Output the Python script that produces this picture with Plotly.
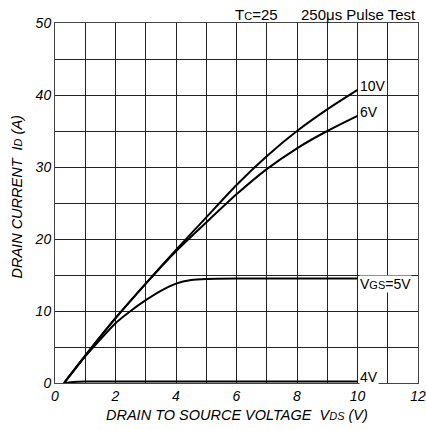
import plotly.graph_objects as go

vds_main = [0.3, 1, 2, 3, 4, 5, 6, 7, 8, 9, 10]
id_10v = [0, 3.8, 9.0, 13.8, 18.5, 23.0, 27.5, 31.5, 35.0, 38.0, 40.7]
id_6v = [0, 3.8, 9.0, 13.8, 18.3, 22.3, 26.2, 29.7, 32.6, 35.0, 37.1]
vds_5v = [0.3, 1, 2, 2.5, 3, 3.5, 4, 4.5, 5, 6, 10]
id_5v = [0, 3.7, 8.3, 10.0, 11.5, 12.8, 13.8, 14.3, 14.45, 14.5, 14.5]
vds_4v = [0.3, 0.6, 1, 10]
id_4v = [0, 0.15, 0.2, 0.2]

curve_labels = ["10V", "6V", "V<span style='font-size:11px'>GS</span>=5V", "4V"]
label_y = [41.3, 37.6, 13.8, 0.9]

x_ticks = list(range(0, 13))
y_ticks = list(range(0, 51, 5))

FONT = "Liberation Sans, Arial, sans-serif"

fig = go.Figure()
for xs, ys, sm in [(vds_main, id_10v, 0.6), (vds_main, id_6v, 0.6),
                   (vds_5v, id_5v, 0.5), (vds_4v, id_4v, 0.3)]:
    fig.add_trace(go.Scatter(x=xs, y=ys, mode="lines",
                             line=dict(color="black", width=2, shape="spline", smoothing=sm),
                             hoverinfo="skip", showlegend=False, cliponaxis=False))

for txt, yy in zip(curve_labels, label_y):
    fig.add_annotation(x=10, y=yy, xref="x", yref="y", text=txt, showarrow=False,
                       xanchor="left", yanchor="middle", xshift=1, bgcolor="white",
                       borderpad=0, font=dict(family=FONT, size=14, color="black"))

# header texts
fig.add_annotation(x=(233 - 55) / 363, y=1.0, xref="paper", yref="paper", yanchor="bottom",
                   xanchor="left", text="T<span style='font-size:11px'>C</span>=25",
                   showarrow=False, yshift=-2, font=dict(family=FONT, size=15, color="black"))
fig.add_annotation(x=1.0, y=1.0, xref="paper", yref="paper", yanchor="bottom", xanchor="right",
                   text="250μs Pulse Test", showarrow=False, yshift=-2,
                   font=dict(family=FONT, size=15, color="black"))

# axis titles
fig.add_annotation(x=0.5, y=0, xref="paper", yref="paper", yanchor="middle", xanchor="center",
                   yshift=-32,
                   text="DRAIN TO SOURCE VOLTAGE  V<span style='font-size:11px'>DS</span> (V)",
                   showarrow=False, font=dict(family=FONT, size=14.5, color="black", style="italic"))
fig.add_annotation(x=0, y=(383 - 197.5) / 360, xref="paper", yref="paper",
                   yanchor="middle", xanchor="center", xshift=-39, textangle=-90,
                   text="DRAIN CURRENT  I<span style='font-size:11px'>D</span> (A)",
                   showarrow=False, font=dict(family=FONT, size=14.5, color="black", style="italic"))

fig.update_xaxes(range=[0, 12], tickvals=x_ticks,
                 ticktext=[str(v) if v % 2 == 0 else "" for v in x_ticks],
                 showgrid=True, gridcolor="#222", gridwidth=1,
                 showline=True, linecolor="#444", linewidth=1, mirror=True,
                 zeroline=False, ticks="", automargin=False,
                 tickfont=dict(family=FONT, size=14, color="black", style="italic"))
fig.update_yaxes(range=[0, 50], tickvals=y_ticks,
                 ticktext=[str(v) if v % 10 == 0 else "" for v in y_ticks],
                 showgrid=True, gridcolor="#222", gridwidth=1,
                 showline=True, linecolor="#444", linewidth=1, mirror=True,
                 zeroline=False, ticks="", automargin=False,
                 tickfont=dict(family=FONT, size=14, color="black", style="italic"))

fig.update_layout(width=426, height=430, margin=dict(l=55, r=8, t=23, b=47, autoexpand=False),
                  plot_bgcolor="white", paper_bgcolor="white")

fig.write_html("out.html", config={"displayModeBar": False},
               post_script="document.body.style.margin='0';")
